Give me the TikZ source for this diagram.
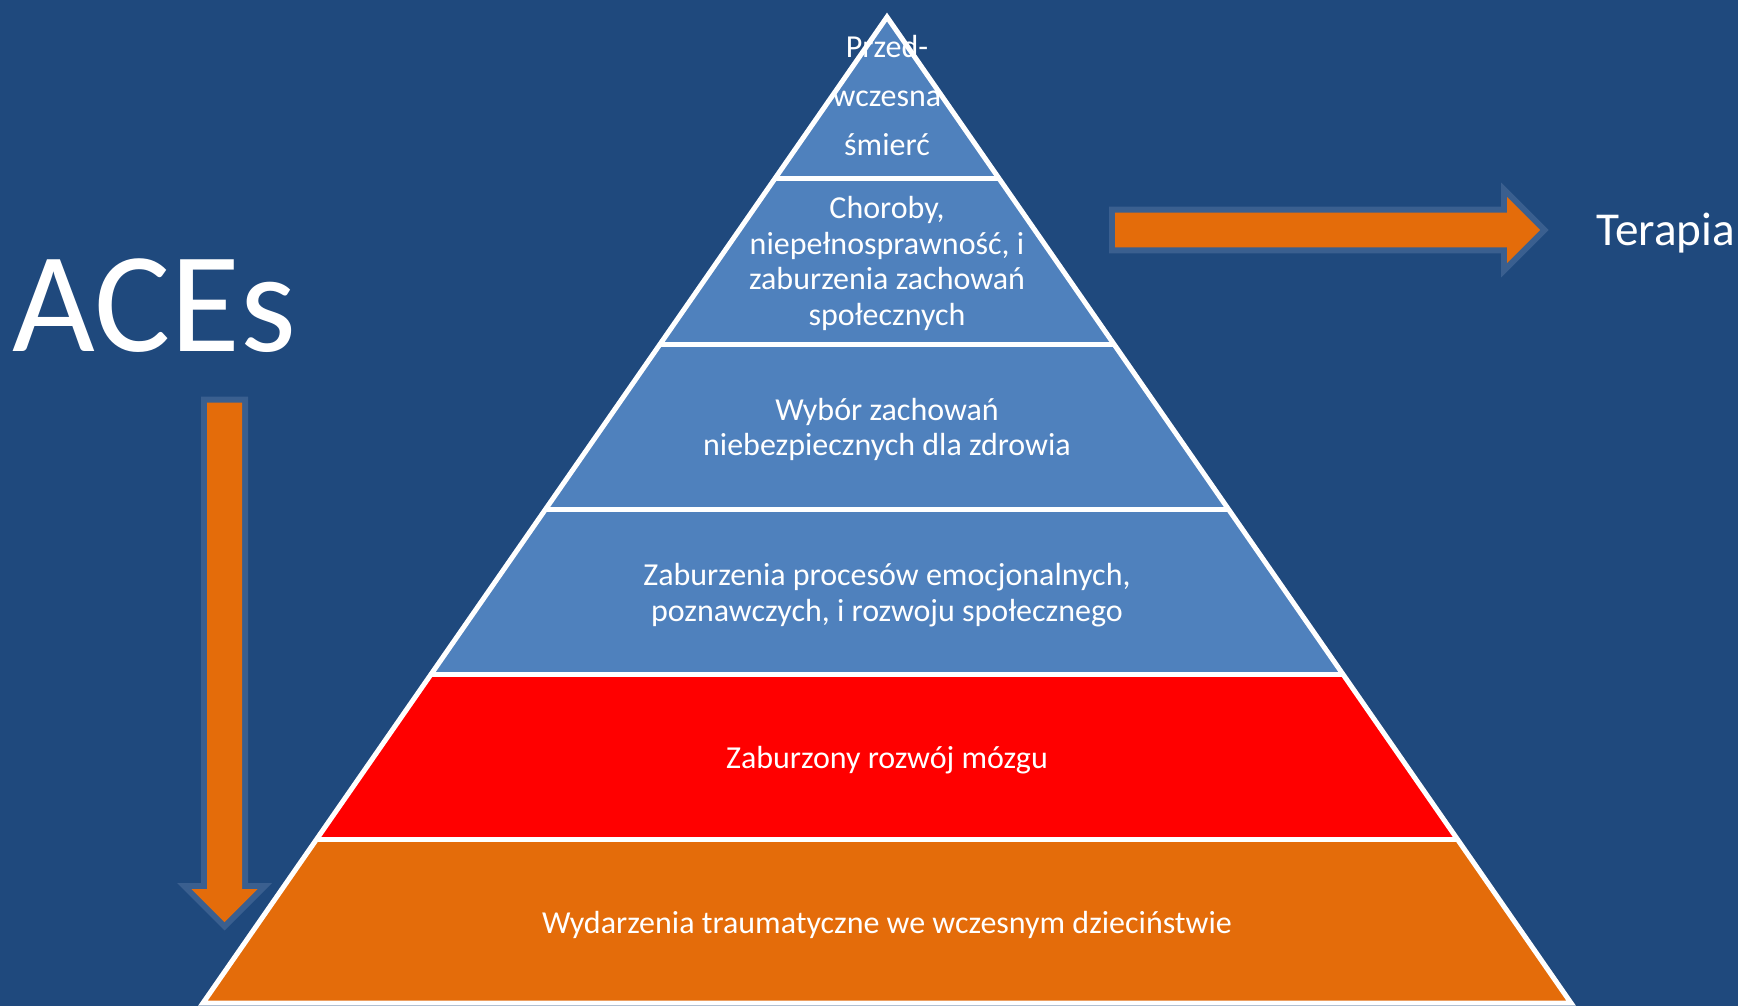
\documentclass[tikz,border=0pt]{standalone}
\usepackage{fontspec}
\setmainfont{Carlito}
\definecolor{bgblue}{HTML}{1F497D}
\definecolor{bandblue}{HTML}{4F81BD}
\definecolor{bandred}{HTML}{FF0000}
\definecolor{bandorange}{HTML}{E46C0A}
\definecolor{arrowrim}{HTML}{3A5F8F}
\begin{document}
\begin{tikzpicture}[x=0.5pt,y=-0.5pt,
  bandtext/.style={text=white, anchor=base, inner sep=0pt, font=\fontsize{16}{17.75}\selectfont},
  toptext/.style={text=white, anchor=base, inner sep=0pt, font=\fontsize{16}{24.5}\selectfont},
  bigtext/.style={text=white, anchor=base west, inner sep=0pt},
  edge/.style={draw=white, line width=2.5pt, line join=miter},
  arrowrimstyle/.style={draw=arrowrim, line width=6pt, line join=miter, miter limit=4},
  arrowfill/.style={fill=bandorange}]
\fill[bgblue] (0,0) rectangle (1738,1006);
\useasboundingbox (0,0) rectangle (1738,1006);

% pyramid geometry
\coordinate (apex) at (887,17);
\coordinate (bl) at (203,1003);
\coordinate (br) at (1571,1003);
\coordinate (L1) at (775.3,178);  \coordinate (R1) at (998.7,178);
\coordinate (L2) at (660.2,344);  \coordinate (R2) at (1113.8,344);
\coordinate (L3) at (545.7,509);  \coordinate (R3) at (1228.3,509);
\coordinate (L4) at (431.2,674);  \coordinate (R4) at (1342.8,674);
\coordinate (L5) at (316.8,839);  \coordinate (R5) at (1457.2,839);

\fill[bandblue] (apex) -- (R1) -- (L1) -- cycle;
\fill[bandblue] (L1) -- (R1) -- (R2) -- (L2) -- cycle;
\fill[bandblue] (L2) -- (R2) -- (R3) -- (L3) -- cycle;
\fill[bandblue] (L3) -- (R3) -- (R4) -- (L4) -- cycle;
\fill[bandred] (L4) -- (R4) -- (R5) -- (L5) -- cycle;
\fill[bandorange] (L5) -- (R5) -- (br) -- (bl) -- cycle;

\draw[edge] (apex) -- (br) -- (bl) -- cycle;
\draw[edge] (L1) -- (R1);
\draw[edge] (L2) -- (R2);
\draw[edge] (L3) -- (R3);
\draw[edge] (L4) -- (R4);
\draw[edge] (L5) -- (R5);

% band texts
\node[toptext] (t1) at (887,57.5) {\begin{tabular}[t]{@{}c@{}}Przed-\\wczesna\\śmierć\end{tabular}};
\node[bandtext] (t2) at (887,218.5) {\begin{tabular}[t]{@{}c@{}}Choroby,\\niepełnosprawność, i\\zaburzenia zachowań\\społecznych\end{tabular}};
\node[bandtext] (t3) at (887,420) {\begin{tabular}[t]{@{}c@{}}Wybór zachowań\\niebezpiecznych dla zdrowia\end{tabular}};
\node[bandtext] (t4) at (887,585.5) {\begin{tabular}[t]{@{}c@{}}Zaburzenia procesów emocjonalnych,\\poznawczych, i rozwoju społecznego\end{tabular}};
\node[bandtext] (t5) at (887,768.5) {Zaburzony rozwój mózgu};
\node[bandtext] (t6) at (887,933.5) {Wydarzenia traumatyczne we wczesnym dzieciństwie};

% right arrow
\draw[arrowrimstyle] (1115,212.7) -- (1507,212.7) -- (1507,197) -- (1540,230) -- (1507,263) -- (1507,247.3) -- (1115,247.3) -- cycle;
\fill[arrowfill] (1115,212.7) -- (1507,212.7) -- (1507,197) -- (1540,230) -- (1507,263) -- (1507,247.3) -- (1115,247.3) -- cycle;

% down arrow
\draw[arrowrimstyle] (207,402.7) -- (242,402.7) -- (242,889) -- (257.5,889) -- (224.5,922) -- (191.5,889) -- (207,889) -- cycle;
\fill[arrowfill] (207,402.7) -- (242,402.7) -- (242,889) -- (257.5,889) -- (224.5,922) -- (191.5,889) -- (207,889) -- cycle;

% labels
\node[bigtext, font=\fontsize{23.6}{28}\selectfont] (terapia) at (1596,245) {Terapia};
\node[bigtext, font=\fontsize{71.5}{86}\selectfont] (aces) at (12,351) {ACEs};
\end{tikzpicture}
\end{document}
